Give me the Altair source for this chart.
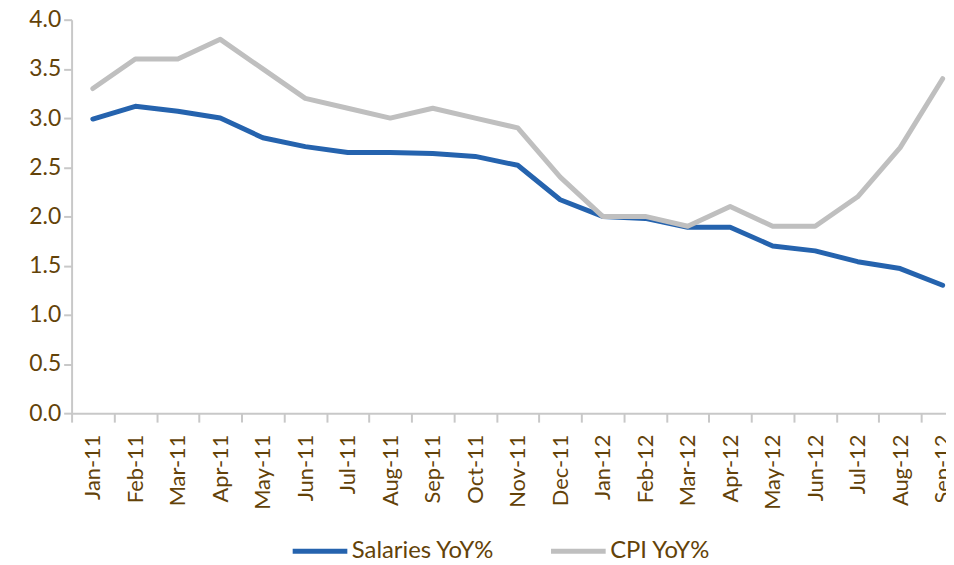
import altair as alt
import pandas as pd

months = ["Jan-11", "Feb-11", "Mar-11", "Apr-11", "May-11", "Jun-11", "Jul-11",
          "Aug-11", "Sep-11", "Oct-11", "Nov-11", "Dec-11", "Jan-12", "Feb-12",
          "Mar-12", "Apr-12", "May-12", "Jun-12", "Jul-12", "Aug-12", "Sep-12"]
salaries = [2.99, 3.12, 3.07, 3.00, 2.80, 2.71, 2.65, 2.65, 2.64, 2.61, 2.52,
            2.17, 2.00, 1.98, 1.89, 1.89, 1.70, 1.65, 1.54, 1.47, 1.30]
cpi = [3.3, 3.6, 3.6, 3.8, 3.5, 3.2, 3.1, 3.0, 3.1, 3.0, 2.9,
       2.4, 2.0, 2.0, 1.9, 2.1, 1.9, 1.9, 2.2, 2.7, 3.4]
series_names = ["Salaries YoY%", "CPI YoY%"]
series_colors = ["#2563AE", "#BFBFBF"]

rows = []
for i, m in enumerate(months):
    rows.append({"month": m, "series": series_names[0], "value": salaries[i]})
    rows.append({"month": m, "series": series_names[1], "value": cpi[i]})
df = pd.DataFrame(rows)

brown = "#634208"
font = "Lato"

chart = alt.Chart(df).mark_line(strokeWidth=5, strokeCap="round", strokeJoin="round").encode(
    x=alt.X("month:N", sort=months, bandPosition=0.5,
            scale=alt.Scale(type="band", paddingInner=0, paddingOuter=0, range=[0, 898]),
            axis=alt.Axis(title=None, labelAngle=-90, labelAlign="right", labelBaseline="middle",
                          labelPadding=12, tickBand="extent", tickSize=9, tickColor="#C8C8C8",
                          tickWidth=2, domainColor="#C8C8C8", domainWidth=2,
                          labelColor=brown, labelFont=font, labelFontSize=22, grid=False)),
    y=alt.Y("value:Q", scale=alt.Scale(domain=[0, 4]),
            axis=alt.Axis(title=None, values=[0, 0.5, 1, 1.5, 2, 2.5, 3, 3.5, 4], format=".1f",
                          tickSize=8, tickColor="#C8C8C8", tickWidth=2, domainColor="#C8C8C8",
                          domainWidth=2, labelColor=brown, labelFont=font, labelFontSize=23,
                          labelPadding=3, grid=False)),
    color=alt.Color("series:N", sort=series_names,
                    scale=alt.Scale(domain=series_names, range=series_colors),
                    legend=alt.Legend(title=None, orient="none", direction="horizontal",
                                      legendX=220, legendY=505, symbolType="stroke",
                                      symbolSize=3025, symbolStrokeWidth=5,
                                      labelColor=brown, labelFont=font, labelFontSize=24,
                                      labelOffset=2, columnPadding=46)),
).properties(
    width=880, height=396,
    autosize=alt.AutoSizeParams(type="none"),
    padding={"left": 64, "top": 10, "right": 0, "bottom": 146},
).configure_view(stroke=None)

chart.save("out.html", embed_options={"renderer": "svg", "actions": False})
